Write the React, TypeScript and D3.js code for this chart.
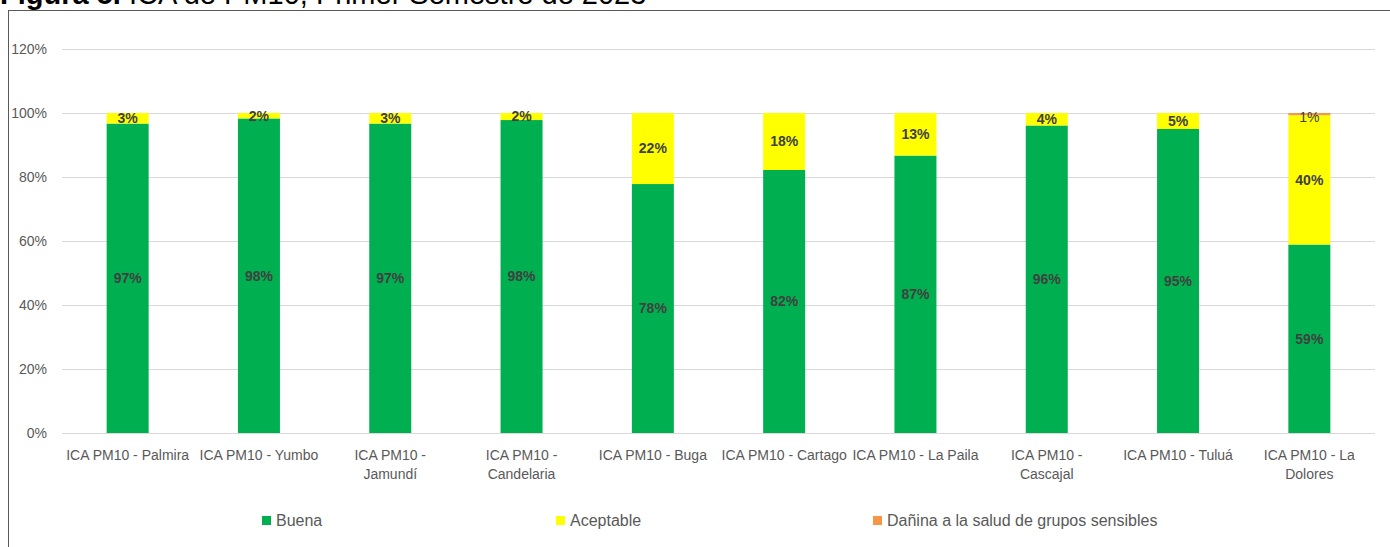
import React from "react";
import * as d3 from "d3";

const categoryLines: string[][] = [
  ["ICA PM10 - Palmira"],
  ["ICA PM10 - Yumbo"],
  ["ICA PM10 -", "Jamundí"],
  ["ICA PM10 -", "Candelaria"],
  ["ICA PM10 - Buga"],
  ["ICA PM10 - Cartago"],
  ["ICA PM10 - La Paila"],
  ["ICA PM10 -", "Cascajal"],
  ["ICA PM10 - Tuluá"],
  ["ICA PM10 - La", "Dolores"],
];
const buena = [96.7, 98.3, 96.7, 97.8, 77.8, 82.2, 86.7, 96.1, 95.0, 58.9];
const aceptable = [3.3, 1.7, 3.3, 2.2, 22.2, 17.8, 13.3, 3.9, 5.0, 40.4];
const danina = [0, 0, 0, 0, 0, 0, 0, 0, 0, 0.7];
const seriesNames = ["Buena", "Aceptable", "Dañina a la salud de grupos sensibles"];
const seriesColors = ["#00b050", "#ffff00", "#f79646"];
const yTicks = [0, 20, 40, 60, 80, 100, 120];

const FONT = "'Liberation Sans Narrow', 'Arial Narrow', 'Liberation Sans', Arial, sans-serif";

export default function App() {
  const W = 1390, H = 547;
  const x = d3.scaleBand<number>().domain(d3.range(categoryLines.length)).range([62, 1375]).paddingInner(0).paddingOuter(0);
  const y = d3.scaleLinear().domain([0, 120]).range([433, 49]);
  const barW = 42;
  const series = [buena, aceptable, danina];
  const stackData = categoryLines.map((_, i) => ({ i, s0: buena[i], s1: aceptable[i], s2: danina[i] }));
  const stack = d3.stack<any>().keys(["s0", "s1", "s2"])(stackData);
  const legendX = [262, 556, 873];

  return (
    <svg width={W} height={H} style={{ position: "absolute", left: 0, top: 0, display: "block", background: "#fff" }}>
      <text x={0} y={4} fontFamily="'Liberation Sans', Arial, sans-serif" fontSize={29} fill="#000">
        <tspan fontWeight="bold">Figura 5.</tspan>
        <tspan> ICA de PM10, Primer Semestre de 2023</tspan>
      </text>
      <rect x={8.5} y={10.5} width={1500} height={600} fill="none" stroke="#595959" strokeWidth={1} />
      {yTicks.map((t) => (
        <g key={t}>
          <line x1={62} x2={1375} y1={Math.round(y(t)) + 0.5} y2={Math.round(y(t)) + 0.5} stroke="#d9d9d9" strokeWidth={1} />
          <text x={47} y={y(t)} dy="0.35em" textAnchor="end" fontFamily={FONT} fontSize={14} fill="#595959">{t}%</text>
        </g>
      ))}
      {stack.map((layer, k) => (
        <g key={k}>
          {layer.map((d, i) => {
            const v = series[k][i];
            if (v <= 0) return null;
            const cx = (x(i) as number) + x.bandwidth() / 2;
            return (
              <rect key={i} x={cx - barW / 2} y={y(d[1])} width={barW} height={y(d[0]) - y(d[1])} fill={seriesColors[k]} />
            );
          })}
        </g>
      ))}
      {stack.map((layer, k) => (
        <g key={"l" + k}>
          {layer.map((d, i) => {
            const v = series[k][i];
            if (v <= 0) return null;
            const cx = (x(i) as number) + x.bandwidth() / 2;
            let cy = (y(d[0]) + y(d[1])) / 2;
            if (k === 2) cy = y(d[1]) + 4;
            return (
              <text key={i} x={cx} y={cy} dy="0.35em" textAnchor="middle" fontFamily={FONT} fontSize={14} fontWeight={k === 2 ? "normal" : "bold"} fill="#404040">
                {Math.round(v)}%
              </text>
            );
          })}
        </g>
      ))}
      {categoryLines.map((lines, i) => {
        const cx = (x(i) as number) + x.bandwidth() / 2;
        return (
          <text key={i} textAnchor="middle" fontFamily={FONT} fontSize={14} fill="#595959">
            {lines.map((ln, j) => (
              <tspan key={j} x={cx} y={460 + j * 19}>{ln}</tspan>
            ))}
          </text>
        );
      })}
      {seriesNames.map((n, k) => (
        <g key={n}>
          <rect x={legendX[k]} y={516} width={9} height={9} fill={seriesColors[k]} />
          <text x={legendX[k] + 14} y={520.5} dy="0.35em" fontFamily={FONT} fontSize={16} fill="#595959">{n}</text>
        </g>
      ))}
    </svg>
  );
}
